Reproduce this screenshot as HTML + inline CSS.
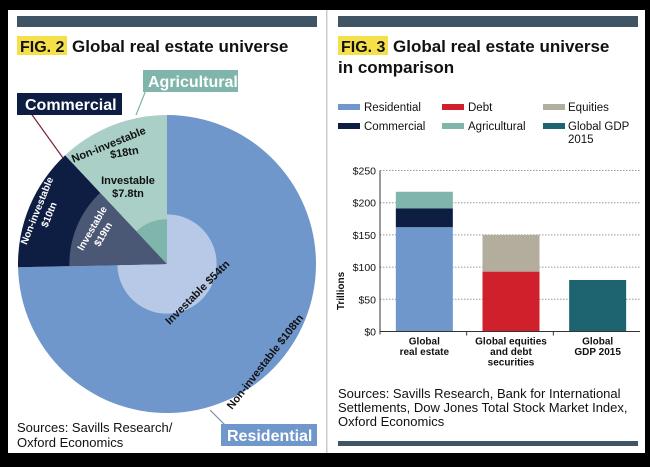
<!DOCTYPE html>
<html><head><meta charset="utf-8"><style>
body{margin:0;width:650px;height:462px;background:#000;font-family:"Liberation Sans",Arial,sans-serif;overflow:hidden}
#wrap{position:absolute;left:0;top:0;width:650px;height:462px}
</style></head><body>
<div id="wrap">
<svg width="650" height="462" xmlns="http://www.w3.org/2000/svg" font-family="Liberation Sans, Arial, sans-serif">
<rect x="8" y="10" width="637" height="443" fill="#fff"/>
<rect x="326" y="10" width="1.5" height="443" fill="#ccc"/>
<rect x="17" y="16" width="300" height="11" fill="#3f5566"/>
<rect x="338" y="16" width="300" height="11" fill="#3f5566"/>
<rect x="338" y="441" width="300" height="5" fill="#3f5566"/>
<g>
<rect x="17" y="36" width="50" height="19" fill="#f5e04a"/>
<text x="20" y="52" font-size="16" font-weight="bold" fill="#111">FIG. 2</text>
<text x="72" y="52" font-size="17" font-weight="bold" fill="#111">Global real estate universe</text>
</g>
<g>
<rect x="338" y="36" width="50" height="19" fill="#f5e04a"/>
<text x="341" y="52" font-size="16" font-weight="bold" fill="#111">FIG. 3</text>
<text x="393" y="52" font-size="17" font-weight="bold" fill="#111">Global real estate universe</text>
<text x="338" y="73" font-size="17" font-weight="bold" fill="#111">in comparison</text>
</g>
<g id="donut"></g>
<g font-weight="bold" fill="#111">
<line x1="30" y1="112" x2="63" y2="158" stroke="#7a1f3d" stroke-width="1.2"/>
<line x1="148" y1="85" x2="136" y2="115" stroke="#7fb5aa" stroke-width="1.2"/>
<line x1="210" y1="410" x2="225" y2="425" stroke="#7b8fa5" stroke-width="1.2"/>
<rect x="17" y="93" width="105" height="22" fill="#0e1d42"/>
<text x="25" y="110" font-size="16" fill="#fff">Commercial</text>
<rect x="143" y="70" width="95" height="22" fill="#7fb5aa"/>
<text x="148" y="87" font-size="16" fill="#fff">Agricultural</text>
<rect x="221" y="424" width="96" height="22" fill="#6f97cb"/>
<text x="227" y="441" font-size="16" fill="#fff">Residential</text>
<text x="110" y="148" font-size="11" transform="rotate(-22 110 148)" text-anchor="middle">Non-investable</text>
<text x="125" y="156" font-size="11" text-anchor="middle" transform="rotate(-10 125 156)">$18tn</text>
<text x="128" y="184" font-size="11" text-anchor="middle">Investable</text>
<text x="128" y="197" font-size="11" text-anchor="middle">$7.8tn</text>
<text x="40" y="212" font-size="10" fill="#fff" text-anchor="middle" transform="rotate(-68 40 212)">Non-investable</text>
<text x="52" y="216" font-size="10" fill="#fff" text-anchor="middle" transform="rotate(-68 52 216)">$10tn</text>
<text x="95" y="230" font-size="10" fill="#fff" text-anchor="middle" transform="rotate(-60 95 230)">Investable</text>
<text x="106" y="236" font-size="10" fill="#fff" text-anchor="middle" transform="rotate(-60 106 236)">$19tn</text>
<text x="200" y="295" font-size="11" text-anchor="middle" transform="rotate(-45 200 295)">Investable $54tn</text>
<text x="268" y="364" font-size="11" text-anchor="middle" transform="rotate(-52 268 364)">Non-investable $108tn</text>
<text x="17" y="432" font-size="13" font-weight="normal">Sources: Savills Research/</text>
<text x="17" y="447" font-size="13" font-weight="normal">Oxford Economics</text>
</g>
<g font-size="11.5" fill="#111">
<rect x="338" y="104" width="22" height="6" fill="#6f97cb"/><text x="364" y="111">Residential</text>
<rect x="442" y="104" width="22" height="6" fill="#d0202c"/><text x="468" y="111">Debt</text>
<rect x="543" y="104" width="22" height="6" fill="#b2ad9c"/><text x="568" y="111">Equities</text>
<rect x="338" y="123" width="22" height="6" fill="#0e1d42"/><text x="364" y="130">Commercial</text>
<rect x="442" y="123" width="22" height="6" fill="#7fb5aa"/><text x="468" y="130">Agricultural</text>
<rect x="543" y="123" width="22" height="6" fill="#1d6470"/><text x="568" y="130">Global GDP</text>
<text x="568" y="143">2015</text>
</g>
<g id="bars"></g>
<g font-size="13" fill="#111">
<text x="338" y="398">Sources: Savills Research, Bank for International</text>
<text x="338" y="412">Settlements, Dow Jones Total Stock Market Index,</text>
<text x="338" y="426">Oxford Economics</text>
</g>
</svg>
</div>
<script>
// Donut data (trillions)
const segNames = ['residential','commercial','agricultural'];
const segTotals = [162, 29, 26];
const segInvestable = [54, 19, 7.8];
const outerColors = ['#6f97cb','#0e1d42','#a9cfc6'];
const innerColors = ['#b7c9e6','#4a5775','#7fb5aa'];

// Bar data
const barCategories = [['Global','real estate'],['Global equities','and debt','securities'],['Global','GDP 2015']];
const residential = [162, 0, 0];
const commercial = [29, 0, 0];
const agricultural = [26, 0, 0];
const debt = [0, 93, 0];
const equities = [0, 57, 0];
const gdp = [0, 0, 80];
const yTicks = [0, 50, 100, 150, 200, 250];
const yTickLabels = ['$0','$50','$100','$150','$200','$250'];

const NS='http://www.w3.org/2000/svg';
function mk(tag, attrs, parent){const e=document.createElementNS(NS,tag);for(const k in attrs)e.setAttribute(k,attrs[k]);parent.appendChild(e);return e;}

// Donut
(function(){
  const g=document.getElementById('donut');
  const cx=167, cy=264, R=149;
  const total=segTotals.reduce((a,b)=>a+b,0);
  function arc(r,a0,a1){
    const p=a=>[cx+r*Math.sin(a),cy-r*Math.cos(a)];
    const s=p(a0), e=p(a1), large=(a1-a0)>Math.PI?1:0;
    return `M${cx},${cy} L${s[0]},${s[1]} A${r},${r} 0 ${large} 1 ${e[0]},${e[1]} Z`;
  }
  let a=0;
  segTotals.forEach((v,i)=>{
    const a1=a+v/total*2*Math.PI;
    const o=mk('path',{d:arc(R,a,a1),fill:outerColors[i]},g);
    
    
    const ri=R*segInvestable[i]/v;
    const n=mk('path',{d:arc(ri,a,a1),fill:innerColors[i]},g);
    
    
    a=a1;
  });
})();

// Bars
(function(){
  const g=document.getElementById('bars');
  const x0=380, x1=640, y0=331.5, yTop=170.5, vmax=250;
  const y=v=>y0-(v/vmax)*(y0-yTop);
  const bw=57, slot=(x1-x0)/barCategories.length;
  const bx=i=>x0+slot*i+(slot-bw)/2+1;
  yTicks.forEach((t,i)=>{
    if(t>0){const l=mk('line',{x1:x0,x2:x1,y1:y(t),y2:y(t),stroke:'#999','stroke-width':1,'stroke-dasharray':'1.5,1.5'},g);
      
      }
    const tx=mk('text',{x:x0-4,y:y(t)+4,'font-size':10.5,'text-anchor':'end',fill:'#111'},g);
    tx.textContent=yTickLabels[i];
    
    
  });
  const series=[[residential,'#6f97cb','residential'],[commercial,'#0e1d42','commercial'],[agricultural,'#7fb5aa','agricultural'],[debt,'#d0202c','debt'],[equities,'#b2ad9c','equities'],[gdp,'#1d6470','gdp']];
  const base=barCategories.map(()=>0);
  series.forEach(([vals,col,nm])=>{
    vals.forEach((v,i)=>{
      if(!v)return;
      const r=mk('rect',{x:bx(i),y:y(base[i]+v),width:bw,height:y(base[i])-y(base[i]+v),fill:col},g);
      
      
      base[i]+=v;
    });
  });
  const ax=mk('line',{x1:x0,x2:x1,y1:y0,y2:y0,stroke:'#333','stroke-width':1},g);
  
  
  const ay=mk('line',{x1:x0,x2:x0,y1:y0+3,y2:yTop,stroke:'#333','stroke-width':1},g);
  
  
  for(let i=1;i<barCategories.length;i++){mk('line',{x1:x0+slot*i,x2:x0+slot*i,y1:y0,y2:y0+4,stroke:'#333'},g);}
  barCategories.forEach((lines,i)=>{
    lines.forEach((s,j)=>{
      const t=mk('text',{x:bx(i)+bw/2,y:y0+13+j*10.5,'font-size':10,'font-weight':'bold','text-anchor':'middle',fill:'#111'},g);
      t.textContent=s;
      
      
    });
  });
  const yt=mk('text',{x:0,y:0,'font-size':10,'font-weight':'bold','text-anchor':'middle',fill:'#111',transform:`translate(344 ${(y0+yTop)/2+40}) rotate(-90)`},g);
  yt.textContent='Trillions';
  
  
})();
</script>
</body></html>
